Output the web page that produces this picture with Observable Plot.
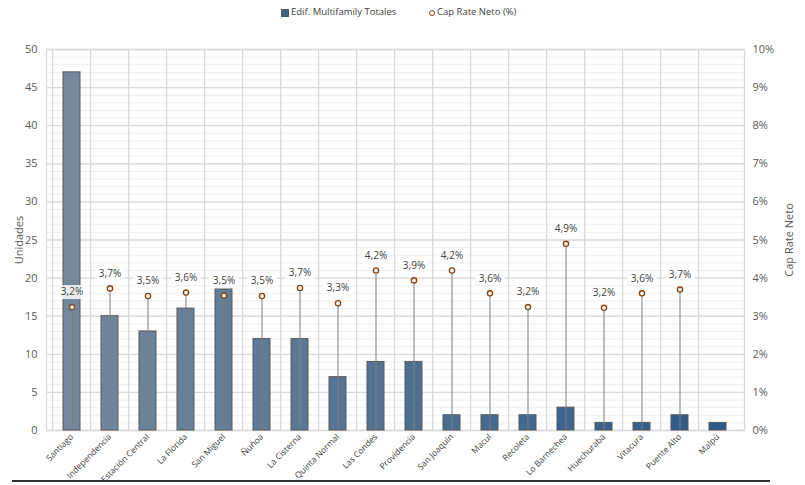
<!DOCTYPE html>
<html><head><meta charset="utf-8">
<script src="https://cdn.jsdelivr.net/npm/d3@7"></script>
<script src="https://cdn.jsdelivr.net/npm/@observablehq/plot@0.6"></script>
<style>
body{margin:0;background:#fff;font-family:"Open Sans",sans-serif;}
#wrap{position:relative;width:805px;height:485px;overflow:hidden;}
#chart{position:absolute;left:0;top:0;}
.lg{position:absolute;top:5px;font-size:9.5px;color:#404040;white-space:nowrap;}
#sq{position:absolute;left:281px;top:9px;width:8px;height:8px;background:#44607f;}
#ci{position:absolute;left:429px;top:10px;width:4px;height:4px;border:1.3px solid #8b4513;border-radius:50%;background:#fff;}
#bottomline{position:absolute;left:12px;top:480px;width:758px;height:1.5px;background:#333;}
</style></head>
<body><div id="wrap">
<div id="chart"></div>
<div id="sq"></div><div class="lg" style="left:291px">Edif. Multifamily Totales</div>
<div id="ci"></div><div class="lg" style="left:437px">Cap Rate Neto (%)</div>
<div id="bottomline"></div>
</div>
<script>
const comunas = ["Santiago","Independencia","Estación Central","La Florida","San Miguel","Ñuñoa","La Cisterna","Quinta Normal","Las Condes","Providencia","San Joaquín","Macul","Recoleta","Lo Barnechea","Huechuraba","Vitacura","Puente Alto","Malpú"];
const unidades = [47,15,13,16,18.5,12,12,7,9,9,2,2,2,3,1,1,2,1];
const capRate = [3.24,3.73,3.53,3.62,3.54,3.53,3.74,3.34,4.2,3.94,4.2,3.6,3.24,4.9,3.22,3.6,3.7,null];
const yTicks = [0,5,10,15,20,25,30,35,40,45,50];
const pctTicks = ["0%","1%","2%","3%","4%","5%","6%","7%","8%","9%","10%"];

const data = comunas.map((c,i)=>({name:c, u:unidades[i], cap:capRate[i], i}));
const capData = data.filter(d=>d.cap!=null);
const colors = d3.quantize(d3.interpolateRgb("#73889c","#2c5a89"), comunas.length);

const W=805,H=485,ML=46,MR=61,MT=49,MB=55;
const step=(W-ML-MR)/comunas.length;
const scaleK = 50/10; // 10% maps to 50 units

const labelBox = {draw(ctx){ ctx.rect(-15,-7,30,14); }};

const chart = Plot.plot({
  width:W, height:H,
  marginLeft:ML, marginRight:MR, marginTop:MT, marginBottom:MB,
  style:{fontFamily:"Open Sans, sans-serif", fontSize:"11px", color:"#595959", background:"#fff"},
  x:{domain:comunas, paddingInner:0.55, paddingOuter:0.275},
  y:{domain:[0,50]},
  marks:[
    Plot.ruleY(d3.range(0,51,1), {stroke:"#eeeeee", strokeWidth:1}),
    Plot.ruleY(yTicks, {stroke:"#d9d9d9", strokeWidth:1.3}),
    Plot.ruleX(comunas, {x:d=>d, dx:-step/2, stroke:"#d9d9d9", strokeWidth:1.3}),
    Plot.frame({stroke:"#d9d9d9", strokeWidth:1.3}),
    Plot.barY(data, {x:"name", y:"u", fill:(d)=>colors[d.i], stroke:"#595959", strokeWidth:1}),
    Plot.ruleX(capData, {x:"name", y1:0, y2:d=>d.cap*scaleK, stroke:"#7f7f7f", strokeWidth:1}),
    Plot.dot(capData, {x:"name", y:d=>d.cap*scaleK, symbol:labelBox, dy:-15, fill:"#fff", fillOpacity:0.85, stroke:"none"}),
    Plot.text(capData, {x:"name", y:d=>d.cap*scaleK, dy:-15, text:d=>d.cap.toFixed(1).replace(".",",")+"%", fontSize:10, fill:"#404040"}),
    Plot.dot(capData, {x:"name", y:d=>d.cap*scaleK, r:2.6, fill:"#fff", stroke:"#8b4513", strokeWidth:1.4}),
    Plot.axisY(yTicks, {anchor:"left", tickSize:0, tickPadding:9, label:"Unidades", labelAnchor:"center", labelArrow:"none", labelOffset:31, fontSize:11}),
    Plot.axisY(yTicks, {anchor:"right", tickSize:0, tickPadding:8, tickFormat:(d,i)=>pctTicks[i], label:"Cap Rate Neto", labelAnchor:"center", labelArrow:"none", labelOffset:48, fontSize:11}),
    Plot.axisX({tickRotate:-45, tickSize:0, tickPadding:5, fontSize:8.5, label:null, fill:"#404040"})
  ]
});
document.getElementById("chart").appendChild(chart);
</script>
</body></html>
